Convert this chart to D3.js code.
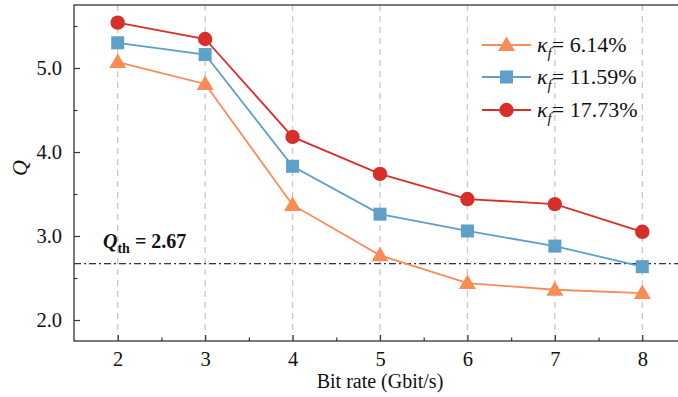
<!DOCTYPE html>
<html><head><meta charset="utf-8">
<script src="https://cdn.jsdelivr.net/npm/d3@7"></script>
<style>body{margin:0;background:#fff}svg{display:block}</style>
</head><body><svg id="c" width="678" height="397"></svg>
<script>
const bitRates = [2, 3, 4, 5, 6, 7, 8];
const q614 = [5.07, 4.81, 3.37, 2.77, 2.44, 2.36, 2.32];
const q1159 = [5.30, 5.16, 3.83, 3.26, 3.06, 2.88, 2.635];
const q1773 = [5.54, 5.345, 4.18, 3.74, 3.44, 3.38, 3.05];
const seriesNames = ["6.14%", "11.59%", "17.73%"];
const seriesColors = ["#f98b55", "#5f9fc8", "#d7302a"];
const seriesShapes = ["triangle", "square", "circle"];
const yTicks = [2.0, 3.0, 4.0, 5.0];
const qThreshold = 2.67;

const FONT = "Liberation Serif";
const svg = d3.select("#c");
const x = d3.scaleLinear().domain([1.5, 8.5]).range([74, 686]);
const y = d3.scaleLinear().domain([1.75, 5.75]).range([341, 5]);
const pTop = y(5.75), pBottom = y(1.75), pLeft = x(1.5), pRight = x(8.5);

// vertical dashed grid
svg.append("g").selectAll("line").data(bitRates).join("line")
  .attr("x1", d => x(d)).attr("x2", d => x(d)).attr("y1", pTop).attr("y2", pBottom)
  .attr("stroke", "#c8c8c8").attr("stroke-width", 1.3).attr("stroke-dasharray", "6,5");

// threshold
svg.append("line").attr("x1", pLeft).attr("x2", pRight).attr("y1", y(qThreshold)).attr("y2", y(qThreshold))
  .attr("stroke", "#000").attr("stroke-width", 1).attr("stroke-dasharray", "7,3,2,3");

// frame
svg.append("rect").attr("x", pLeft).attr("y", pTop).attr("width", pRight - pLeft).attr("height", pBottom - pTop)
  .attr("fill", "none").attr("stroke", "#333").attr("stroke-width", 1.3);

// axes
const xAxis = d3.axisBottom(x).tickValues(bitRates).tickSize(-6).tickPadding(10).tickFormat(d3.format("d"));
svg.append("g").attr("transform", `translate(0,${pBottom})`).call(xAxis);
svg.append("g").attr("transform", `translate(0,${pBottom})`)
  .call(d3.axisBottom(x).tickValues([2.5,3.5,4.5,5.5,6.5,7.5]).tickSize(-3.5).tickFormat(""));
const yAxis = d3.axisLeft(y).tickValues(yTicks).tickSize(-6).tickPadding(12).tickFormat(d3.format(".1f"));
svg.append("g").attr("transform", `translate(${pLeft},0)`).call(yAxis);
svg.append("g").attr("transform", `translate(${pLeft},0)`)
  .call(d3.axisLeft(y).tickValues([2.5,3.5,4.5,5.5]).tickSize(-3.5).tickFormat(""));
svg.selectAll(".domain").remove();
svg.selectAll("g").attr("font-family", FONT);
svg.selectAll(".tick line").attr("stroke", "#333").attr("stroke-width", 1.2);
svg.selectAll(".tick text").attr("font-size", 20.5).attr("fill", "#111").attr("font-family", FONT);

svg.append("text").attr("x", (x(2)+x(8))/2).attr("y", 388).attr("text-anchor", "middle")
  .attr("font-family", FONT).attr("font-size", 20).attr("fill", "#111").text("Bit rate (Gbit/s)");
svg.append("text").attr("transform", "translate(27,168) rotate(-90)").attr("text-anchor", "middle")
  .attr("font-family", FONT).attr("font-size", 22).attr("font-style", "italic").attr("fill", "#111").text("Q");

// threshold label
const qt = svg.append("text").attr("x", 103).attr("y", 248).attr("font-family", FONT).attr("font-size", 20).attr("font-weight", "bold").attr("fill", "#111");
qt.append("tspan").attr("font-style", "italic").text("Q");
qt.append("tspan").attr("font-size", 14).attr("dy", 5).text("th");
qt.append("tspan").attr("dy", -5).text(" = 2.67");

function marker(g, shape, cx, cy, color) {
  if (shape === "circle") g.append("circle").attr("cx", cx).attr("cy", cy).attr("r", 7.2).attr("fill", color);
  else if (shape === "square") g.append("rect").attr("x", cx - 6.5).attr("y", cy - 6.5).attr("width", 13).attr("height", 13).attr("fill", color);
  else g.append("path").attr("d", `M${cx},${cy-8.5}L${cx+8.5},${cy+6}L${cx-8.5},${cy+6}Z`).attr("fill", color);
}

const allSeries = [q614, q1159, q1773];
const line = d3.line().x((d, i) => x(bitRates[i])).y(d => y(d));
allSeries.forEach((vals, s) => {
  const g = svg.append("g");
  g.append("path").attr("d", line(vals)).attr("fill", "none").attr("stroke", seriesColors[s]).attr("stroke-width", 1.8);
  vals.forEach((v, i) => marker(g, seriesShapes[s], x(bitRates[i]), y(v), seriesColors[s]));
});

// legend
const legRows = [45, 77, 110];
seriesNames.forEach((name, s) => {
  const g = svg.append("g");
  const ly = legRows[s];
  g.append("line").attr("x1", 482).attr("x2", 531).attr("y1", ly).attr("y2", ly).attr("stroke", seriesColors[s]).attr("stroke-width", 1.8);
  marker(g, seriesShapes[s], 506.5, ly, seriesColors[s]);
  const t = g.append("text").attr("x", 537).attr("y", ly + 7).attr("font-family", FONT).attr("font-size", 22).attr("fill", "#111");
  t.append("tspan").attr("font-style", "italic").text("κ");
  t.append("tspan").attr("font-style", "italic").attr("font-size", 15).attr("dy", 6).text("f");
  t.append("tspan").attr("dy", -6).text("= " + name);
});
</script></body></html>
